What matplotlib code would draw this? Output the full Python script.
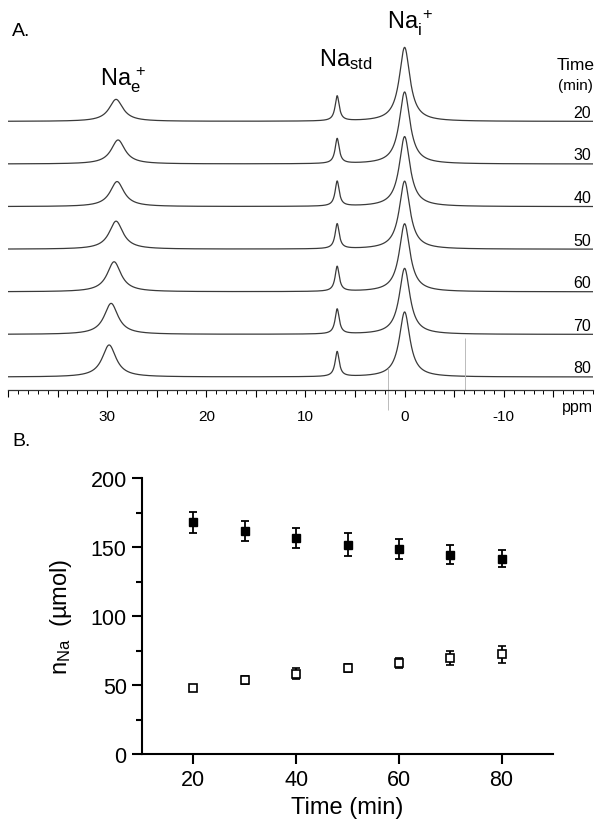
import numpy as np
import matplotlib
matplotlib.use('Agg')
import matplotlib.pyplot as plt
from matplotlib.ticker import MultipleLocator, FuncFormatter

plt.rcParams['font.family'] = ['Liberation Sans', 'DejaVu Sans']
plt.rcParams['mathtext.fontset'] = 'custom'
plt.rcParams['mathtext.rm'] = 'Liberation Sans'
plt.rcParams['mathtext.it'] = 'Liberation Sans:italic'
plt.rcParams['axes.unicode_minus'] = False

# ---- panel A: 23Na spectra (peak parameters) ----
times = [20, 30, 40, 50, 60, 70, 80]
nae_ppm = [29.1, 28.9, 29.0, 29.1, 29.3, 29.6, 29.8]
nae_height = [22, 24, 25, 28, 30, 31, 32]
nastd_ppm = [6.8, 6.8, 6.8, 6.8, 6.8, 6.8, 6.8]
nastd_height = [25, 25, 25, 25, 25, 25, 25]
nai_ppm = [0.0, 0.0, 0.0, 0.0, 0.0, 0.0, 0.0]
nai_height = [74, 72, 70, 68, 68, 66, 65]
fwhm_nae, fwhm_std, fwhm_nai = 1.7, 0.5, 1.3
ppm_labels = [30, 20, 10, 0, -10]
artifact_ppm = [1.7, -6.1]

# ---- panel B: n_Na vs time ----
t_min = [20, 30, 40, 50, 60, 70, 80]
na_i = [167.8, 161.7, 156.4, 151.8, 148.6, 144.4, 141.6]
na_i_err = [7.5, 7.0, 7.3, 8.0, 7.5, 7.0, 6.0]
na_e = [47.5, 53.5, 58.2, 62.5, 66.0, 69.6, 72.2]
na_e_err = [2.0, 3.0, 4.0, 3.0, 3.5, 5.0, 6.0]


def lorentz(x, x0, h, w):
    g = w / 2.0
    return h * g**2 / ((x - x0)**2 + g**2)


fig = plt.figure(figsize=(6.02, 8.29), dpi=100)

axA = fig.add_axes([8/602, 1 - 391/829, 585/602, 391/829])
ppm = np.linspace(40, -19, 4000)
spacing = 42.6
for k, t in enumerate(times):
    base = 13 + spacing * (len(times) - 1 - k)
    y = (lorentz(ppm, nae_ppm[k], nae_height[k], fwhm_nae)
         + lorentz(ppm, nastd_ppm[k], nastd_height[k], fwhm_std)
         + lorentz(ppm, nai_ppm[k], nai_height[k], fwhm_nai))
    axA.plot(ppm, base + y, color='#3a3a3a', lw=0.9)
    axA.text(-18.8, base + 9, str(t), ha='right', va='center', fontsize=11.5)

axA.vlines(artifact_ppm[0], -20, 22, color='#bbbbbb', lw=0.7, clip_on=False)
axA.vlines(artifact_ppm[1], 0, 52, color='#bbbbbb', lw=0.7, clip_on=False)

axA.set_xlim(40, -19)
axA.set_ylim(0, 391)
for s in ['left', 'right', 'top']:
    axA.spines[s].set_visible(False)
axA.spines['bottom'].set_linewidth(0.9)
axA.spines['bottom'].set_color('#333333')
axA.set_yticks([])
axA.xaxis.set_major_locator(MultipleLocator(5))
axA.xaxis.set_minor_locator(MultipleLocator(1))
axA.xaxis.set_major_formatter(FuncFormatter(
    lambda v, p: '%d' % v if round(v) in ppm_labels else ''))
axA.tick_params(axis='x', which='major', length=5, width=0.8, labelsize=11, pad=9)
axA.tick_params(axis='x', which='minor', length=3, width=0.7)
axA.patch.set_visible(False)

fig.text(593/602, 1 - 408/829, 'ppm', ha='right', va='center', fontsize=11.5)
fig.text(595/602, 1 - 65/829, 'Time', ha='right', va='center', fontsize=12.5)
fig.text(593/602, 1 - 86/829, '(min)', ha='right', va='center', fontsize=11)
fig.text(12/602, 1 - 32/829, 'A.', ha='left', va='center', fontsize=14)
fig.text(123/602, 1 - 80/829, r'Na$_\mathrm{e}^{\,+}$', ha='center', va='center', fontsize=17)
fig.text(346/602, 1 - 60/829, r'Na$_\mathrm{std}$', ha='center', va='center', fontsize=17)
fig.text(410/602, 1 - 23/829, r'Na$_\mathrm{i}^{\,+}$', ha='center', va='center', fontsize=17)
fig.text(12/602, 1 - 442/829, 'B.', ha='left', va='center', fontsize=14)

# ---- panel B axes ----
axB = fig.add_axes([142/602, 74/829, 411/602, 276/829])
axB.errorbar(t_min, na_i, yerr=na_i_err, fmt='s', color='black', ms=6,
             capsize=3, elinewidth=1.3, capthick=1.3)
axB.errorbar(t_min, na_e, yerr=na_e_err, fmt='s', color='black', mfc='white',
             ms=6, mew=1.2, capsize=3, elinewidth=1.3, capthick=1.3)
axB.set_xlim(10, 90)
axB.set_ylim(0, 200)
axB.set_xticks([20, 40, 60, 80])
axB.set_yticks([0, 50, 100, 150, 200])
axB.yaxis.set_minor_locator(MultipleLocator(25))
for s in ['right', 'top']:
    axB.spines[s].set_visible(False)
for s in ['left', 'bottom']:
    axB.spines[s].set_linewidth(1.5)
axB.tick_params(which='major', length=7, width=1.5, labelsize=15.5, pad=4)
axB.tick_params(which='minor', length=4, width=1.5)
axB.set_xlabel('Time (min)', fontsize=17, labelpad=4)
axB.set_ylabel(r'n$_\mathrm{Na}$  (µmol)', fontsize=17, labelpad=12)

fig.savefig('out.png', dpi=100)
